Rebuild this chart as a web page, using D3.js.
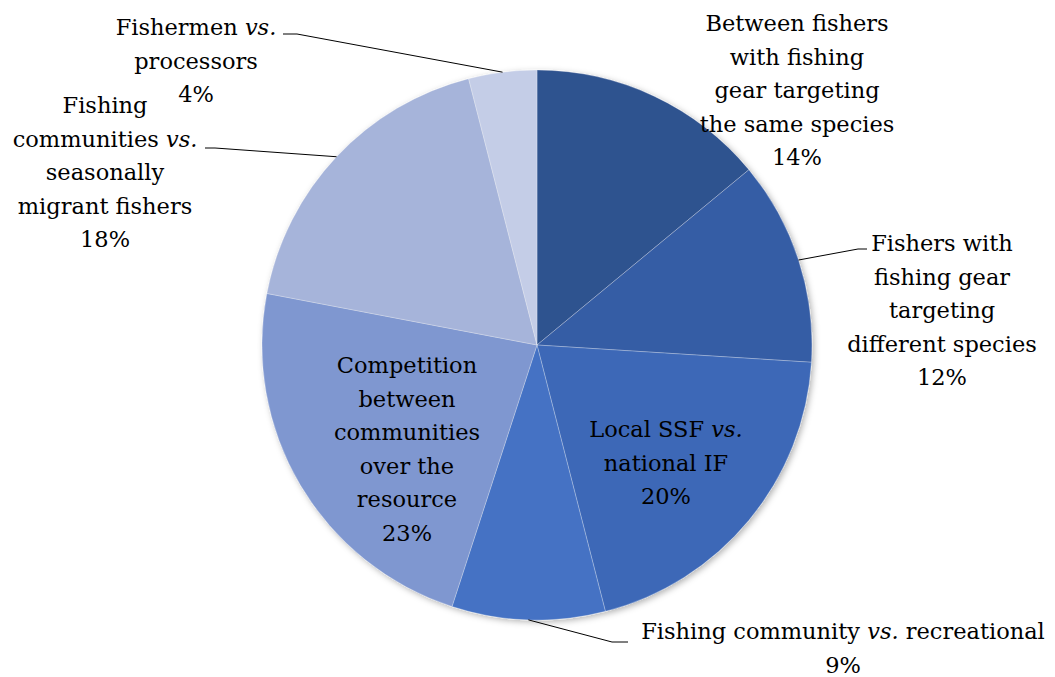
<!DOCTYPE html>
<html>
<head>
<meta charset="utf-8">
<script src="https://cdn.jsdelivr.net/npm/d3@7"></script>
<style>
  html, body { margin: 0; padding: 0; background: #ffffff; }
  svg { display: block; }
</style>
</head>
<body>
<svg id="chart" width="1055" height="677"></svg>
<script>
// Types of fisheries conflicts, share of reported cases (%)
const categories = [
  "Between fishers with fishing gear targeting the same species",
  "Fishers with fishing gear targeting different species",
  "Local SSF vs. national IF",
  "Fishing community vs. recreational",
  "Competition between communities over the resource",
  "Fishing communities vs. seasonally migrant fishers",
  "Fishermen vs. processors"
];
const values = [14, 12, 20, 9, 23, 18, 4];

// Wrapped label lines; "|vs.|" marks the italic part
const labelLines = [
  ["Between fishers", "with fishing", "gear targeting", "the same species"],
  ["Fishers with", "fishing gear", "targeting", "different species"],
  ["Local SSF |vs.|", "national IF"],
  ["Fishing community |vs.| recreational"],
  ["Competition", "between", "communities", "over the", "resource"],
  ["Fishing", "communities |vs.|", "seasonally", "migrant fishers"],
  ["Fishermen |vs.|", "processors"]
];

const colors = ["#2F528F", "#365DA5", "#3C68B7", "#4472C4", "#7F97D0", "#A6B4DA", "#C4CDE7"];

// Layout: label block centre (dx) and first baseline (dy) relative to pie centre,
// plus leader line elbow/end (relative) for labels drawn outside the pie.
const labelLayout = [
  { dx: 260, dy: -314, leader: null },
  { dx: 405, dy: -94, leader: { ex: 321, ey: -96, tx: 330 } },
  { dx: 129, dy: 92, leader: null },
  { dx: 306, dy: 294, leader: { ex: 75, ey: 297, tx: 91 } },
  { dx: -130, dy: 28, leader: null },
  { dx: -432, dy: -232, leader: { ex: -322, ey: -197, tx: -332 } },
  { dx: -341, dy: -310, leader: { ex: -240, ey: -311, tx: -254 } }
];

const cx = 537, cy = 345, radius = 275, lineGap = 33.5;
const FONT = "DejaVu Serif";
const FONT_SIZE = 22.5;

const svg = d3.select("#chart");

const defs = svg.append("defs");
const f = defs.append("filter").attr("id", "pieShadow")
  .attr("x", "-10%").attr("y", "-10%").attr("width", "120%").attr("height", "120%");
f.append("feDropShadow").attr("dx", 2).attr("dy", 2).attr("stdDeviation", 3)
  .attr("flood-color", "#000").attr("flood-opacity", 0.3);

const data = categories.map((c, i) => ({ name: c, value: values[i], i }));

const pie = d3.pie().value(d => d.value).sort(null);
const arcs = pie(data);
const arc = d3.arc().innerRadius(0).outerRadius(radius);

const g = svg.append("g").attr("transform", `translate(${cx},${cy})`);

const slices = g.append("g").attr("filter", "url(#pieShadow)");
slices.selectAll("path")
  .data(arcs)
  .join("path")
  .attr("d", arc)
  .attr("fill", d => colors[d.data.i])
  .attr("stroke", "rgba(255,255,255,0.45)")
  .attr("stroke-width", 0.6);

// Leader lines from the middle of each slice's rim
const leaders = g.append("g");
arcs.forEach(d => {
  const L = labelLayout[d.data.i].leader;
  if (!L) return;
  const a = (d.startAngle + d.endAngle) / 2;
  const sx = radius * Math.sin(a), sy = -radius * Math.cos(a);
  leaders.append("path")
    .attr("d", `M${sx},${sy}L${L.ex},${L.ey}L${L.tx},${L.ey}`)
    .attr("fill", "none")
    .attr("stroke", "#000")
    .attr("stroke-width", 1);
});

// Labels: category lines followed by the percentage
const labels = g.append("g")
  .attr("font-family", FONT)
  .attr("font-size", FONT_SIZE)
  .attr("fill", "#000");
arcs.forEach(d => {
  const i = d.data.i;
  const pos = labelLayout[i];
  const lines = labelLines[i].concat([d3.format(".0f")(d.data.value) + "%"]);
  const t = labels.append("text")
    .attr("text-anchor", "middle")
    .attr("font-family", FONT)
    .attr("font-size", FONT_SIZE)
    .attr("x", pos.dx)
    .attr("y", pos.dy);
  lines.forEach((ln, k) => {
    const tl = t.append("tspan")
      .attr("x", pos.dx)
      .attr("y", pos.dy + k * lineGap);
    ln.split("|").forEach((part, j) => {
      if (!part) return;
      const sp = tl.append("tspan").text(part);
      if (j % 2 === 1) sp.attr("font-style", "italic");
    });
  });
});
</script>
</body>
</html>
